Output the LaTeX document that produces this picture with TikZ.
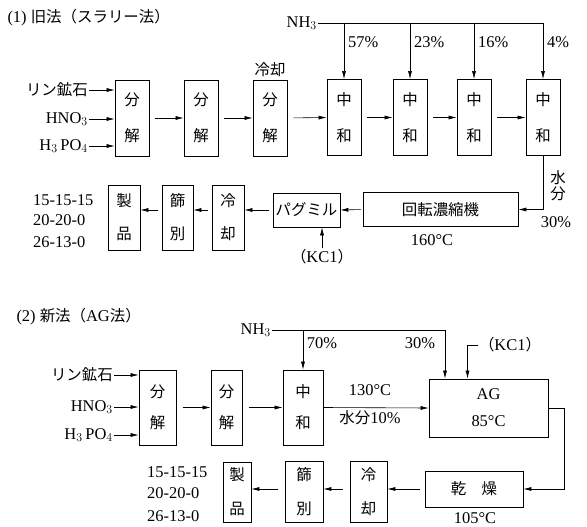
\documentclass[tikz,border=0pt]{standalone}
\usepackage{fontspec}
\setmainfont{Liberation Serif}
\newfontfamily\jp{Noto Sans CJK JP}
\usepackage{tikz}
\usetikzlibrary{arrows.meta, positioning}

\tikzset{
  unit/.style={draw, thick, minimum width=34bp, minimum height=76bp,
    inner sep=0pt, align=center, font=\fontsize{15.5}{17}\selectfont},
  wide/.style={draw, thick, minimum height=34bp, inner sep=0pt, align=center},
  flow/.style={semithick, -{Latex[length=8bp,width=4bp]}},
  lbl/.style={inner sep=1bp},
  jlbl/.style={inner sep=1bp, align=center, font=\jp\fontsize{15.5}{17}\selectfont},
}
\newcommand{\pair}[3][19bp]{{\jp #2}\\[#1]{\jp #3}}
\newcommand{\jt}[1]{{\jp\fontsize{15.5}{17}\selectfont #1}}

\begin{document}
\begin{tikzpicture}[x=1bp, y=-1bp, font=\fontsize{16.5}{19}\selectfont]
\useasboundingbox (0,0) rectangle (587,527);

% (1) Old process
\node[anchor=west] (title1) at (4,18) {(1) \jt{旧法（スラリー法）}};

% Feed
\node[lbl, anchor=east] (ore1) at (89,90) {\jt{リン鉱石}};
\node[lbl, anchor=east] (hno1) at (89,119) {HNO$_3$};
\node[lbl, anchor=east] (hpo1) at (89,146) {H$_3$\,PO$_4$};

% Decomposition and neutralisation
\node[unit] (dec1) at (132,118) {\pair{分}{解}};
\node[unit] (dec2) at (201,118) {\pair{分}{解}};
\node[unit] (dec3) at (270,118) {\pair{分}{解}};
\node[jlbl, above=2bp of dec3] (chill) {冷却};
\foreach \x/\name in {344/neu1, 410/neu2, 474/neu3, 543/neu4}{
  \node[unit] (\name) at (\x,117.5) {\pair{中}{和}};
}

\foreach \f in {ore1, hno1, hpo1}{
  \draw[flow] (\f.east) -- (\f.east -| dec1.west);
}
\foreach \a/\b in {dec1/dec2, dec2/dec3, dec3/neu1, neu1/neu2, neu2/neu3, neu3/neu4}{
  \draw[flow, shorten <=6bp] (\a.east) -- (\b.west);
}

% Ammonia split
\node[lbl, anchor=east] (nh3a) at (318,23) {NH$_3$};
\draw[semithick] (nh3a.east) -- (nh3a.east -| neu4.north);
\foreach \name/\pc in {neu1/57, neu2/23, neu3/16, neu4/4}{
  \draw[flow] (\name.north |- nh3a.east) -- (\name.north);
  \node[lbl, anchor=west] (p\name) at ([xshift=3bp, yshift=37bp]\name.north) {\pc\%};
}

% Finishing line
\node[wide, minimum width=155bp] (conc) at (440.5,209.5) {\jt{回転濃縮機}};
\node[wide, minimum width=67bp] (pug) at (306.5,210) {\jt{パグミル}};
\node[unit, minimum width=32bp, minimum height=65bp] (cool1) at (228,217.5) {\pair[16bp]{冷}{却}};
\node[unit, minimum width=31bp, minimum height=65bp] (sieve1) at (177.5,217.5) {\pair[16bp]{篩}{別}};
\node[unit, minimum width=32bp, minimum height=65bp] (prod1) at (124,217.5) {\pair[16bp]{製}{品}};

\draw[flow] (neu4.south) |- (conc.east);
\node[jlbl] (water1) at (558,186) {水\\[-1bp]分};
\node[lbl] (wet1) at (556,222) {30\%};
\node[lbl] (temp1) at (432,240) {160°C};
\node[lbl] (kcl1) at (322,257) {\jt{（}KC1\jt{）}};
\draw[flow] (kcl1.north) -- (kcl1.north |- pug.south);

\draw[flow, shorten <=2bp] (conc.west) -- (pug.east);
\draw[flow, shorten <=4bp] (pug.west) -- (pug.west -| cool1.east);
\draw[flow, shorten <=4bp] (cool1.west |- pug.west) -- (sieve1.east |- pug.west);
\draw[flow, shorten <=4bp] (sieve1.west |- pug.west) -- (prod1.east |- pug.west);

\node[lbl, anchor=west] (g1a) at (32,200) {15-15-15};
\node[lbl, anchor=west] (g1b) at (32,220) {20-20-0};
\node[lbl, anchor=west] (g1c) at (32,242) {26-13-0};

% (2) New process
\node[anchor=west] (title2) at (13,317) {(2) \jt{新法（}AG\jt{法）}};

% Feed
\node[lbl, anchor=east] (ore2) at (114,375) {\jt{リン鉱石}};
\node[lbl, anchor=east] (hno2) at (114,407) {HNO$_3$};
\node[lbl, anchor=east] (hpo2) at (114,435) {H$_3$\,PO$_4$};

\node[unit, minimum width=37bp, minimum height=75bp] (dec4) at (157.5,407.5) {\pair[14bp]{分}{解}};
\node[unit, minimum width=31bp, minimum height=75bp] (dec5) at (226.5,407.5) {\pair[14bp]{分}{解}};
\node[unit, minimum width=40bp, minimum height=75bp] (neu5) at (303,407.5) {\pair[14bp]{中}{和}};
\node[wide, minimum width=119bp, minimum height=58bp] (ag) at (488.5,408) {AG\\[8bp]85°C};

\foreach \f in {ore2, hno2, hpo2}{
  \draw[flow] (\f.east) -- (\f.east -| dec4.west);
}
\draw[flow, shorten <=7bp] (dec4.east) -- (dec5.west);
\draw[flow, shorten <=7bp] (dec5.east) -- (neu5.west);
\draw[flow] (neu5.east) -- (ag.west);
\node[lbl] (hot2) at (370,390) {130°C};
\node[lbl] (wet2) at (370,418) {\jt{水分}10\%};

% Ammonia split
\node[lbl, anchor=east] (nh3b) at (272,330) {NH$_3$};
\draw[semithick] (nh3b.east) -- ++(173,0) coordinate (split);
\draw[flow] (neu5.north |- split) -- (neu5.north);
\draw[flow] (split) -- (split |- ag.north);
\node[lbl] (p70) at (322,343) {70\%};
\node[lbl] (p30) at (420,343) {30\%};

% Potash
\node[lbl] (kcl2) at (510,345) {\jt{（}KC1\jt{）}};
\draw[flow] (kcl2.west) -| ([xshift=-21bp]ag.north);

% Drying and finishing
\node[wide, minimum width=98bp, minimum height=36bp] (dry) at (474,489) {\jt{乾\quad 燥}};
\node[lbl] (temp2) at (475,518) {105°C};
\draw[flow] (ag.east) -- ++(16,0) |- (dry.east);

\node[unit, minimum width=37bp, minimum height=61bp] (cool2) at (368.5,491.5) {\pair[17bp]{冷}{却}};
\node[unit, minimum width=38bp, minimum height=61bp] (sieve2) at (304,491.5) {\pair[17bp]{篩}{別}};
\node[unit, minimum width=28bp, minimum height=60bp] (prod2) at (237,492) {\pair[17bp]{製}{品}};

\draw[flow, shorten <=5bp] (dry.west) -- (dry.west -| cool2.east);
\draw[flow, shorten <=7bp] (cool2.west |- dry.west) -- (sieve2.east |- dry.west);
\draw[flow, shorten <=7bp] (sieve2.west |- dry.west) -- (prod2.east |- dry.west);

\node[lbl, anchor=west] (g2a) at (146,472) {15-15-15};
\node[lbl, anchor=west] (g2b) at (146,493) {20-20-0};
\node[lbl, anchor=west] (g2c) at (146,516) {26-13-0};
\end{tikzpicture}
\end{document}
